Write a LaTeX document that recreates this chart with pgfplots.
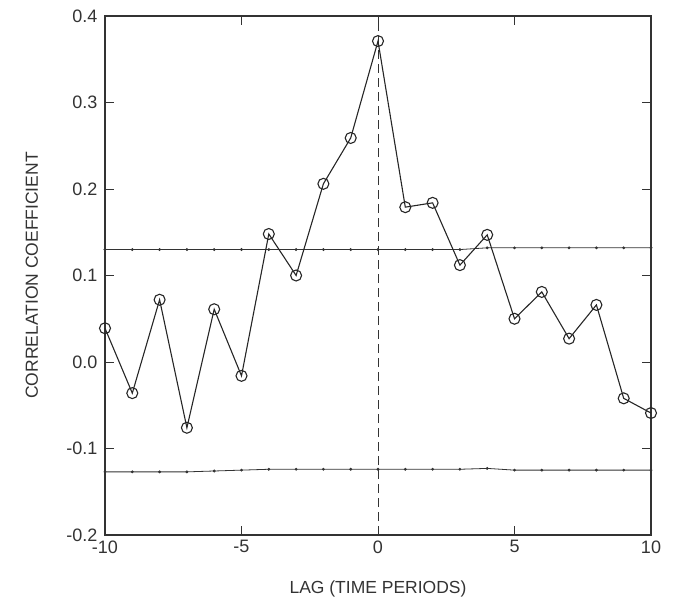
\documentclass[border=0pt]{standalone}
\usepackage{fontspec}
\setmainfont{Liberation Sans}
\usepackage{pgfplots}
\pgfplotsset{compat=1.18}

\begin{document}
\begin{tikzpicture}
\begin{axis}[
    scale only axis,
    width=546pt, height=519pt,
    xmin=-10, xmax=10,
    ymin=-0.2, ymax=0.4,
    xtick={-10,-5,0,5,10},
    ytick={-0.2,-0.1,0,0.1,0.2,0.3,0.4},
    yticklabel style={/pgf/number format/fixed, /pgf/number format/fixed zerofill,
        /pgf/number format/precision=1, xshift=-4pt},
    /pgf/number format/assume math mode=true,
    tick align=inside,
    major tick length=9pt,
    axis line style={black!80, line width=1.2pt},
    every tick/.style={black!80, line width=1pt},
    ticklabel style={font=\fontsize{18}{21}\selectfont, text=black!80},
    xticklabel style={yshift=-2pt},
    xlabel={LAG (TIME PERIODS)},
    ylabel={CORRELATION COEFFICIENT},
    every axis x label/.style={at={(axis description cs:0.5,-0.104)}, anchor=center,
        font=\fontsize{17.5}{21}\selectfont, text=black!80},
    every axis y label/.style={at={(axis description cs:-0.134,0.5)}, rotate=90, anchor=center,
        font=\fontsize{17.5}{21}\selectfont, text=black!80},
    clip=false,
]
\coordinate (bl) at (rel axis cs:0,0);

% confidence bands
\addplot[black!80, line width=0.8pt, mark=*, mark size=1pt] coordinates {
    (-10,0.130) (-9,0.130) (-8,0.130) (-7,0.130) (-6,0.130) (-5,0.130)
    (-4,0.130) (-3,0.130) (-2,0.130) (-1,0.130) (0,0.130) (1,0.130)
    (2,0.130) (3,0.130) (4,0.132) (5,0.132) (6,0.132) (7,0.132)
    (8,0.132) (9,0.132) (10,0.132)
};
\addplot[black!80, line width=0.8pt, mark=*, mark size=1pt] coordinates {
    (-10,-0.127) (-9,-0.127) (-8,-0.127) (-7,-0.127) (-6,-0.126) (-5,-0.125)
    (-4,-0.124) (-3,-0.124) (-2,-0.124) (-1,-0.124) (0,-0.124) (1,-0.124)
    (2,-0.124) (3,-0.124) (4,-0.123) (5,-0.125) (6,-0.125) (7,-0.125)
    (8,-0.125) (9,-0.125) (10,-0.125)
};

% zero lag
\addplot[black!80, line width=0.9pt, dash pattern=on 9pt off 5pt] coordinates {(0,-0.2) (0,0.4)};

% cross correlations
\addplot[black!85, line width=1.1pt, mark=o, mark size=5.5pt, mark options={line width=1.1pt}] coordinates {
    (-10,0.039) (-9,-0.036) (-8,0.072) (-7,-0.076) (-6,0.061) (-5,-0.016)
    (-4,0.148) (-3,0.100) (-2,0.206) (-1,0.259) (0,0.371) (1,0.179)
    (2,0.184) (3,0.112) (4,0.147) (5,0.050) (6,0.081) (7,0.027)
    (8,0.066) (9,-0.042) (10,-0.059)
};
\end{axis}
\pgfresetboundingbox
\path (bl) ++(-105pt,-65pt) rectangle ++(676pt,600pt);
\end{tikzpicture}
\end{document}
